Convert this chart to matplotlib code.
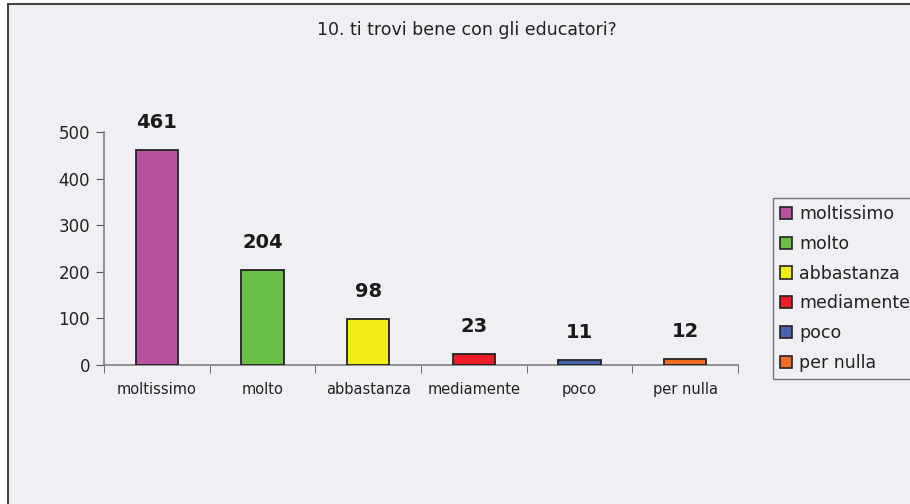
import matplotlib
matplotlib.use("Agg")
import matplotlib.pyplot as plt
from matplotlib.patches import Rectangle, Patch

categories = ["moltissimo", "molto", "abbastanza", "mediamente", "poco", "per nulla"]
values = [461, 204, 98, 23, 11, 12]
colors = ["#B8529E", "#6ABD45", "#F2EC14", "#EE1C24", "#4665B0", "#F06B23"]
yticks = [0, 100, 200, 300, 400, 500]
title = "10. ti trovi bene con gli educatori?"

bg = "#EFF0F3"
W, H = 910, 504
fig = plt.figure(figsize=(W / 100, H / 100), dpi=100, facecolor="white")
plt.rcParams["font.family"] = ["DejaVu Sans"]

# chart area background + border (right/bottom edges lie outside the image)
fig.patches.append(Rectangle((8 / W, -0.05), 1.2, 1.05 - 4 / H, transform=fig.transFigure,
                             facecolor=bg, edgecolor="#444444", linewidth=1.5, zorder=-5))

ax = fig.add_axes([104 / W, 1 - 365 / H, (738 - 104) / W, (365 - 132) / H])
ax.set_facecolor("none")
ax.set_zorder(2)
x = list(range(len(categories)))
ax.bar(x, values, width=0.4, color=colors, edgecolor="#222222", linewidth=1.3, zorder=3)
for xi, v in zip(x, values):
    ax.annotate(str(v), (xi, v), xytext=(0, 18), textcoords="offset pixels",
                ha="center", va="bottom", fontsize=14, fontweight="bold",
                color="#1a1a1a", annotation_clip=False)

ax.set_xlim(-0.5, len(categories) - 0.5)
ax.set_ylim(0, 500)
ax.set_yticks(yticks)
ax.set_yticklabels([str(t) for t in yticks], fontsize=12, color="#222222")
ax.set_xticks(x)
ax.set_xticklabels(categories, fontsize=10.5, color="#222222")
ax.tick_params(axis="x", length=0, pad=12)
ax.set_xticks([i - 0.5 for i in range(len(categories) + 1)], minor=True)
ax.tick_params(axis="x", which="minor", length=6, color="#555555", direction="out")
ax.tick_params(axis="y", length=6, color="#555555", direction="out", pad=4)
for s in ["top", "right"]:
    ax.spines[s].set_visible(False)
for s in ["left", "bottom"]:
    ax.spines[s].set_color("#808080")
    ax.spines[s].set_linewidth(1.2)

fig.text(467 / W, 1 - 30 / H, title, ha="center", va="center", fontsize=12.5, color="#222222")

handles = [Patch(facecolor=c, edgecolor="#222222", linewidth=1.2) for c in colors]
leg = fig.legend(handles, categories, loc="upper left", bbox_to_anchor=(773 / W, 1 - 198 / H),
                 fontsize=12.5, frameon=True, fancybox=False, handlelength=0.7, handleheight=0.7,
                 handletextpad=0.4, labelspacing=0.68, borderpad=0.4, borderaxespad=0)
leg.get_frame().set_edgecolor("#555555")
leg.get_frame().set_facecolor(bg)
leg.get_frame().set_linewidth(1.0)
leg.set_zorder(3)
for t in leg.get_texts():
    t.set_color("#222222")

fig.savefig("out.png", dpi=100, facecolor="white")
